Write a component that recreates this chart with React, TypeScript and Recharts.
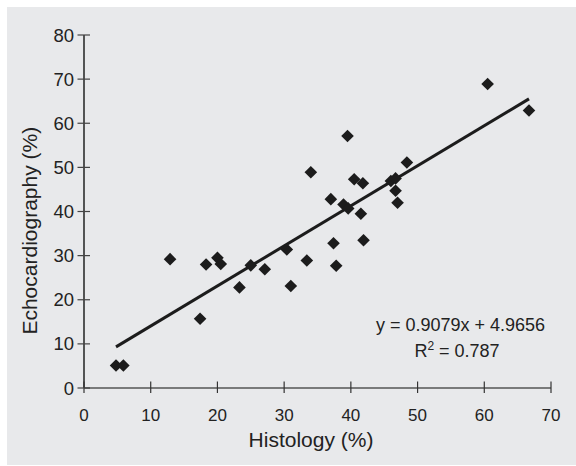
import { ReferenceLine, Scatter, ScatterChart, XAxis, YAxis } from 'recharts';

// histology % vs echocardiography %
const histology = [
  4.8, 5.9, 12.9, 17.4, 18.3, 20.0, 20.5, 23.3, 25.0, 27.1, 30.4, 31.0, 33.4, 34.0, 37.0, 37.4, 37.8, 38.9,
  39.5, 39.6, 40.5, 41.5, 41.8, 41.9, 46.0, 46.7, 46.7, 47.0, 48.4, 60.5, 66.7
];
const echo = [
  5.1, 5.1, 29.2, 15.7, 28.0, 29.5, 28.1, 22.8, 27.8, 26.9, 31.4, 23.1, 28.9, 48.9, 42.8, 32.8, 27.7, 41.6,
  57.1, 40.7, 47.3, 39.5, 46.4, 33.5, 46.9, 47.5, 44.7, 42.0, 51.1, 68.9, 62.9
];
const xTicks = [0, 10, 20, 30, 40, 50, 60, 70];
const yTicks = [0, 10, 20, 30, 40, 50, 60, 70, 80];
const slope = 0.9079;
const intercept = 4.9656;
const equationText = 'y = 0.9079x + 4.9656';
const r2Text = '0.787';

const INK = '#1c1c1c';
const FONT = '"Liberation Sans", Arial, Helvetica, sans-serif';

const points = histology.map((x, i) => ({ x, y: echo[i] }));
const xMin = Math.min(...histology);
const xMax = Math.max(...histology);

const Diamond = (props: any) => {
  const { cx, cy } = props;
  const r = 6.3;
  return <polygon points={`${cx},${cy - r} ${cx + r},${cy} ${cx},${cy + r} ${cx - r},${cy}`} fill={INK} />;
};

const YTick = (props: any) => {
  const { x, y, payload } = props;
  return (
    <g>
      <line x1={x - 6.5} x2={x + 6} y1={y} y2={y} stroke="#444" strokeWidth={1.2} />
      <text x={x - 10} y={y} dy={6.5} textAnchor="end" fontSize={18.5} fontFamily={FONT} fill="#222">
        {payload.value}
      </text>
    </g>
  );
};

const XTick = (props: any) => {
  const { x, y, payload } = props;
  return (
    <g>
      <line x1={x} x2={x} y1={y - 6.5} y2={y + 5} stroke="#333" strokeWidth={1.2} />
      <text x={x} y={y} dy={32.5} textAnchor="middle" fontSize={17} fontFamily={FONT} fill="#222">
        {payload.value}
      </text>
    </g>
  );
};

export default function App() {
  return (
    <div style={{ position: 'absolute', left: 7, top: 7, width: 569, height: 458, background: '#e8e9eb' }}>
      <ScatterChart width={569} height={458} margin={{ top: 28, right: 25, left: 0, bottom: 0 }}>
        <XAxis
          type="number"
          dataKey="x"
          domain={[0, 70]}
          ticks={xTicks}
          height={77}
          tickSize={0}
          tickMargin={0}
          tickLine={false}
          axisLine={{ stroke: '#555', strokeWidth: 1.5 }}
          tick={<XTick />}
        />
        <YAxis
          type="number"
          dataKey="y"
          domain={[0, 80]}
          ticks={yTicks}
          width={77}
          tickSize={0}
          tickMargin={0}
          tickLine={false}
          axisLine={{ stroke: '#222', strokeWidth: 1.5 }}
          tick={<YTick />}
        />
        <ReferenceLine
          segment={[
            { x: xMin, y: slope * xMin + intercept },
            { x: xMax, y: slope * xMax + intercept }
          ]}
          stroke={INK}
          strokeWidth={3}
        />
        <Scatter data={points} shape={<Diamond />} isAnimationActive={false} />
        <g fontFamily={FONT} fill="#222">
          <text x={304} y={440} textAnchor="middle" fontSize={21}>
            Histology (%)
          </text>
          <text x={30} y={223.7} textAnchor="middle" fontSize={21} transform="rotate(-90, 30, 223.7)">
            Echocardiography (%)
          </text>
          <text x={453.5} y={323.7} textAnchor="middle" fontSize={18}>
            {equationText}
          </text>
          <text x={450} y={349.7} textAnchor="middle" fontSize={18}>
            R<tspan dy={-7} fontSize={12}>2</tspan>
            <tspan dy={7}> = {r2Text}</tspan>
          </text>
        </g>
      </ScatterChart>
    </div>
  );
}
